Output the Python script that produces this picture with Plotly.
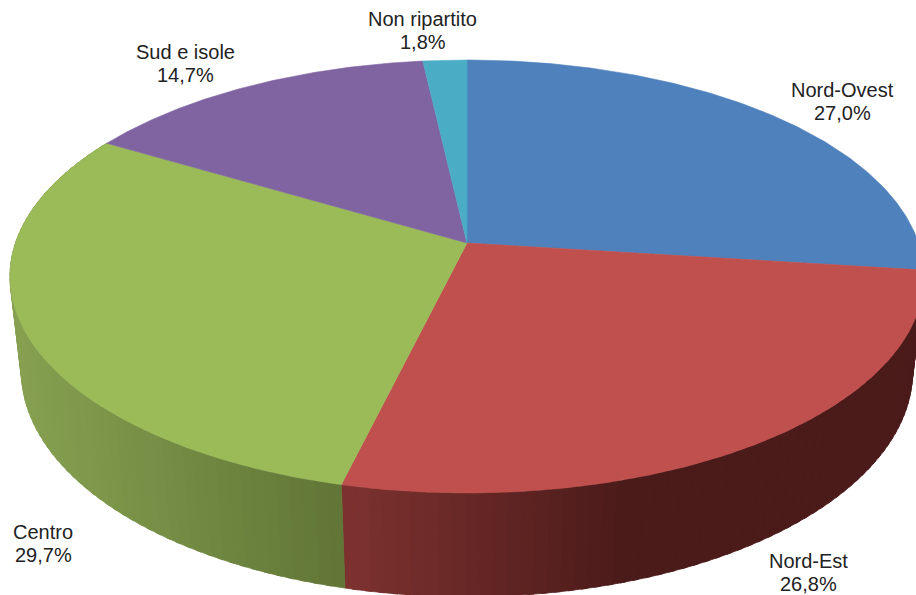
import numpy as np
import plotly.graph_objects as go

categories = ["Nord-Ovest", "Nord-Est", "Centro", "Sud e isole", "Non ripartito"]
values = [27.0, 26.8, 29.7, 14.7, 1.8]
colors = ["#4f81bd", "#c0504d", "#9bbb59", "#8064a2", "#4bacc6"]

W, H = 916, 595
CX, CY = 467.0, 243.0   # apex of the pie on the page
A, B, K = 211.3, 451.5, 0.1547   # perspective of the top face
DROP, FAR = 96.5, 0.025          # thickness of the pie

label_pos = [(842, 101), (808, 572), (43, 543), (185.5, 63.5), (422.5, 30)]
# side shading: (x from, colour from, x to, colour to)
side_ramp = {
    1: (344, (125, 50, 48), 620, (75, 27, 26)),
    2: (20, (134, 160, 80), 344, (96, 117, 54)),
}


def project(theta, low=0.0):
    u, v = np.sin(theta), np.cos(theta)
    d = 1 + K * v + FAR * low
    return CX + B * u / d, CY - (A * v - DROP * low) / d


def shade(i, x):
    x0, c0, x1, c1 = side_ramp[i]
    t = np.clip((x - x0) / (x1 - x0), 0, 1)
    return "rgb(%d,%d,%d)" % tuple(int(round(a + (b - a) * t)) for a, b in zip(c0, c1))


fig = go.Figure()
edges = np.concatenate([[0], np.cumsum(values)]) / sum(values) * 2 * np.pi

# sides first, painted in small strips
for i in side_ramp:
    t0, t1 = edges[i], edges[i + 1]
    n = int((t1 - t0) / np.radians(1.5))
    cuts = np.linspace(t0, t1, n + 1)
    for a, b in zip(cuts[:-1], cuts[1:]):
        ts = np.linspace(a, min(b + 0.012, t1), 4)
        tx, ty = project(ts)
        bx, by = project(ts[::-1], 1.0)
        xs = np.concatenate([tx, bx, tx[:1]])
        ys = np.concatenate([ty, by, ty[:1]])
        col = shade(i, xs.mean())
        fig.add_trace(go.Scatter(
            x=xs, y=ys, mode="lines", fill="toself", fillcolor=col,
            line=dict(width=0.8, color=col), hoverinfo="skip", showlegend=False))

# top face
for i, c in enumerate(colors):
    ts = np.linspace(edges[i], edges[i + 1], 160)
    px, py = project(ts)
    fig.add_trace(go.Scatter(
        x=np.concatenate([[CX], px, [CX]]), y=np.concatenate([[CY], py, [CY]]),
        mode="lines", fill="toself", fillcolor=c, line=dict(width=0.6, color=c),
        name=categories[i], hoverinfo="name", showlegend=False))

for name, val, (x, y) in zip(categories, values, label_pos):
    for text, yy in ((name, y - 11.5), (f"{val:.1f}%".replace(".", ","), y + 11.5)):
        fig.add_annotation(
            x=x, y=yy, xref="x", yref="y", showarrow=False, align="center", text=text,
            font=dict(family="Liberation Sans", size=20, color="#222222"))

fig.update_layout(
    width=W, height=H, margin=dict(l=0, r=0, t=0, b=0),
    paper_bgcolor="white", plot_bgcolor="white",
    xaxis=dict(range=[0, W], visible=False, fixedrange=True),
    yaxis=dict(range=[H, 0], visible=False, fixedrange=True),
)
fig.write_html(
    "out.html",
    config={"displayModeBar": False},
    post_script="document.body.style.margin='0';document.body.style.overflow='hidden';",
)
